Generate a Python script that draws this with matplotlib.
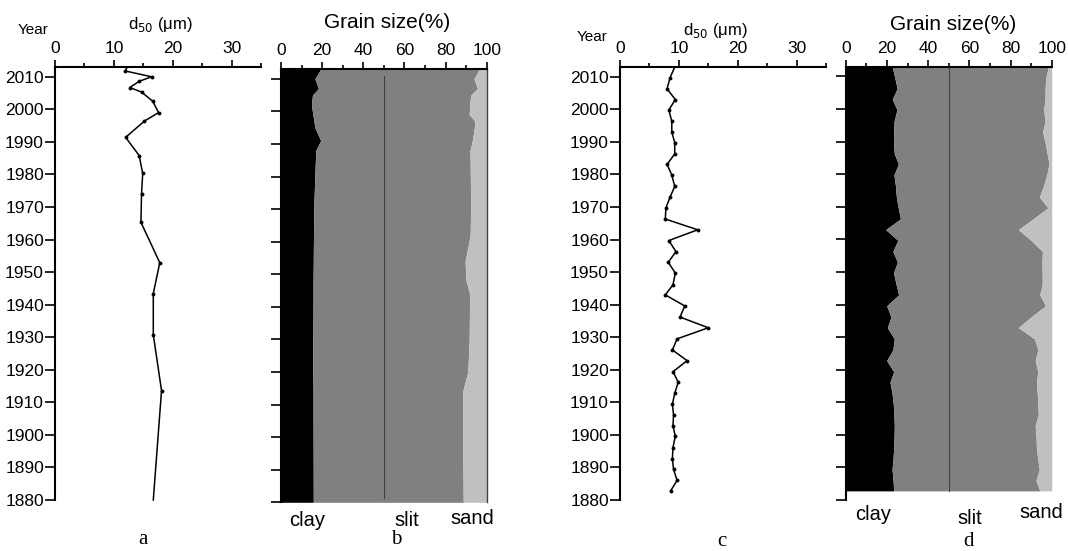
import matplotlib
matplotlib.use("Agg")
import matplotlib.pyplot as plt
from matplotlib.ticker import MultipleLocator

plt.rcParams['font.family'] = ['Liberation Sans', 'DejaVu Sans']

# ---------------- data ----------------
# Panel a: median grain size (um) by year
years_a = [2013, 2011.8, 2010, 2008.6, 2006.7, 2005.3, 2002.5, 1999, 1996.4, 1991.4,
           1985.8, 1980.3, 1974, 1965.3, 1952.9, 1943.4, 1930.8, 1913.6, 1880]
d50_a = [12.3, 11.9, 16.4, 14.3, 12.7, 14.7, 16.6, 17.6, 15.2, 12.0,
         14.3, 14.9, 14.7, 14.6, 17.8, 16.7, 16.7, 18.1, 16.7]

# Panel b: grain-size composition (%) by year
years_b = [2013, 2010, 2007, 2005, 2002, 1999, 1997, 1995, 1991, 1988,
           1972, 1962, 1954, 1948, 1944, 1930, 1920, 1914, 1905, 1880]
clay_b = [19.3, 16.5, 18.2, 15.3, 14.8, 15.5, 16.0, 16.5, 19.3, 16.9,
          16.0, 15.8, 15.7, 15.6, 15.6, 15.5, 15.5, 15.6, 15.6, 15.7]
sand_b = [3.6, 6.2, 4.5, 7.7, 8.3, 8.5, 5.7, 6.0, 7.0, 8.1,
          7.8, 8.0, 10.5, 10.0, 8.3, 8.5, 9.2, 11.7, 11.7, 11.4]

# Panel c / d: second core
years_c = [2013, 2009.7, 2006.3, 2003, 1999.8, 1996.3, 1993, 1989.8, 1986.3, 1983.1,
           1979.8, 1976.3, 1973, 1969.7, 1966.3, 1963, 1959.7, 1956.3, 1953, 1949.7,
           1946.1, 1943, 1939.6, 1936.2, 1932.9, 1929.5, 1926.1, 1922.8, 1919.4, 1916.2,
           1912.8, 1909.4, 1906.1, 1902.8, 1899.6, 1896.1, 1892.7, 1889.4, 1886, 1882.8]
d50_c = [9.3, 8.5, 8.0, 9.4, 8.3, 8.8, 8.8, 9.3, 9.3, 8.0,
         8.8, 9.3, 8.5, 7.8, 7.7, 13.2, 8.3, 9.5, 8.2, 9.4,
         9.0, 7.7, 11.0, 10.2, 15.0, 9.7, 8.9, 11.4, 9.0, 9.9,
         9.3, 8.9, 9.1, 9.0, 9.4, 9.0, 8.9, 9.1, 9.7, 8.6]
clay_d = [22.6, 23.8, 25.0, 22.6, 24.9, 23.5, 23.3, 23.2, 23.6, 25.6,
          23.4, 24.2, 24.6, 25.5, 26.6, 19.4, 25.3, 22.9, 25.1, 23.2,
          24.5, 25.7, 19.9, 22.0, 20.2, 23.6, 22.9, 19.9, 23.3, 21.5,
          22.5, 23.1, 23.4, 23.6, 23.5, 23.3, 23.0, 22.5, 23.0, 23.3]
sand_d = [1.6, 2.8, 3.2, 3.2, 3.9, 3.2, 4.4, 3.2, 2.2, 1.3,
          2.4, 4.0, 6.0, 1.8, 9.0, 16.2, 10.0, 4.5, 4.7, 4.6,
          4.6, 5.8, 3.0, 10.0, 16.2, 8.4, 6.7, 8.0, 6.7, 7.4,
          7.0, 6.7, 6.5, 8.0, 7.6, 7.4, 6.8, 6.0, 7.6, 5.7]

year_ticks = [1880, 1890, 1900, 1910, 1920, 1930, 1940, 1950, 1960, 1970, 1980, 1990, 2000, 2010]
d50_ticks = [0, 10, 20, 30]
pct_ticks = [0, 20, 40, 60, 80, 100]

# ---------------- layout ----------------
W, H = 1068, 551
fig = plt.figure(figsize=(W / 100, H / 100), dpi=100)


def rect(l, r, t, b):
    return [l / W, 1 - b / H, (r - l) / W, (b - t) / H]


def style(ax, xmax, xticks, minor, ylabels):
    ax.set_ylim(1880, 2013)
    ax.set_xlim(0, xmax)
    ax.set_facecolor('none')
    for s in ('bottom', 'right'):
        ax.spines[s].set_visible(False)
    for s in ('top', 'left'):
        ax.spines[s].set_linewidth(1.5)
    ax.xaxis.tick_top()
    ax.set_xticks(xticks)
    ax.xaxis.set_minor_locator(MultipleLocator(minor))
    ax.set_yticks(year_ticks)
    ax.tick_params(axis='x', which='major', direction='out', length=5, width=1.2,
                   labelsize=12.5, pad=3)
    ax.tick_params(axis='x', which='minor', direction='out', length=3, width=1.2)
    ax.tick_params(axis='y', which='major', direction='out', length=7, width=1.2,
                   labelsize=12.5, pad=1, labelleft=ylabels)
    ax.tick_params(axis='y', which='minor', left=False)


# panel a
ax_a = fig.add_axes(rect(55, 261, 67, 500))
ax_a.plot(d50_a, years_a, color='black', lw=1.1, marker='o', ms=1.8,
          markevery=slice(1, -1), clip_on=False)
style(ax_a, 35, d50_ticks, 5, True)

# panel b
ax_b = fig.add_axes(rect(281, 486.7, 69, 502.3))
silt_top_b = [100 - s for s in sand_b]
ax_b.fill_betweenx(years_b, 0, clay_b, color='black', lw=0)
ax_b.fill_betweenx(years_b, clay_b, silt_top_b, color='#808080', lw=0)
ax_b.fill_betweenx(years_b, silt_top_b, 100, color='#c0c0c0', lw=0)
ax_b.plot([50, 50], [2010.9, 1881.4], color='#404040', lw=0.8)
style(ax_b, 100, pct_ticks, 10, False)
ax_b.spines['right'].set_visible(True)
ax_b.spines['right'].set_color('#404040')
ax_b.spines['right'].set_linewidth(1.0)

# panel c
ax_c = fig.add_axes(rect(620, 826, 67, 500))
ax_c.plot(d50_c, years_c, color='black', lw=1.1, marker='o', ms=1.8,
          markevery=slice(1, None), clip_on=False)
style(ax_c, 35, d50_ticks, 5, True)

# panel d
ax_d = fig.add_axes(rect(845.7, 1051.7, 66.7, 500))
silt_top_d = [100 - s for s in sand_d]
ax_d.fill_betweenx(years_c, 0, clay_d, color='black', lw=0)
ax_d.fill_betweenx(years_c, clay_d, silt_top_d, color='#808080', lw=0)
ax_d.fill_betweenx(years_c, silt_top_d, 100, color='#c0c0c0', lw=0)
ax_d.plot([50, 50], [years_c[0], years_c[-1]], color='#404040', lw=0.8)
style(ax_d, 100, pct_ticks, 10, False)


def txt(x, y, s, size, **kw):
    fig.text(x / W, 1 - y / H, s, fontsize=size, ha='center', va='center', **kw)


# headers
txt(33, 30, 'Year', 11)
txt(160, 24, 'd$_{50}$ (μm)', 12)
txt(592, 37, 'Year', 11)
txt(715, 30, 'd$_{50}$ (μm)', 12)
txt(387, 23, 'Grain size(%)', 15)
txt(953.5, 25, 'Grain size(%)', 15)

# bottom class labels
txt(306.7, 520, 'clay', 14.5)
txt(406.7, 520, 'slit', 14.5)
txt(472.7, 518, 'sand', 14.5)
txt(873.3, 515, 'clay', 14.5)
txt(970, 518, 'slit', 14.5)
txt(1041.7, 513, 'sand', 14.5)

# panel letters
serif = ['Liberation Serif', 'DejaVu Serif']
txt(143, 540, 'a', 15, family=serif)
txt(396.7, 540, 'b', 15, family=serif)
txt(722, 541, 'c', 15, family=serif)
txt(968, 541, 'd', 15, family=serif)

fig.savefig('out.png', dpi=100, facecolor='white')
